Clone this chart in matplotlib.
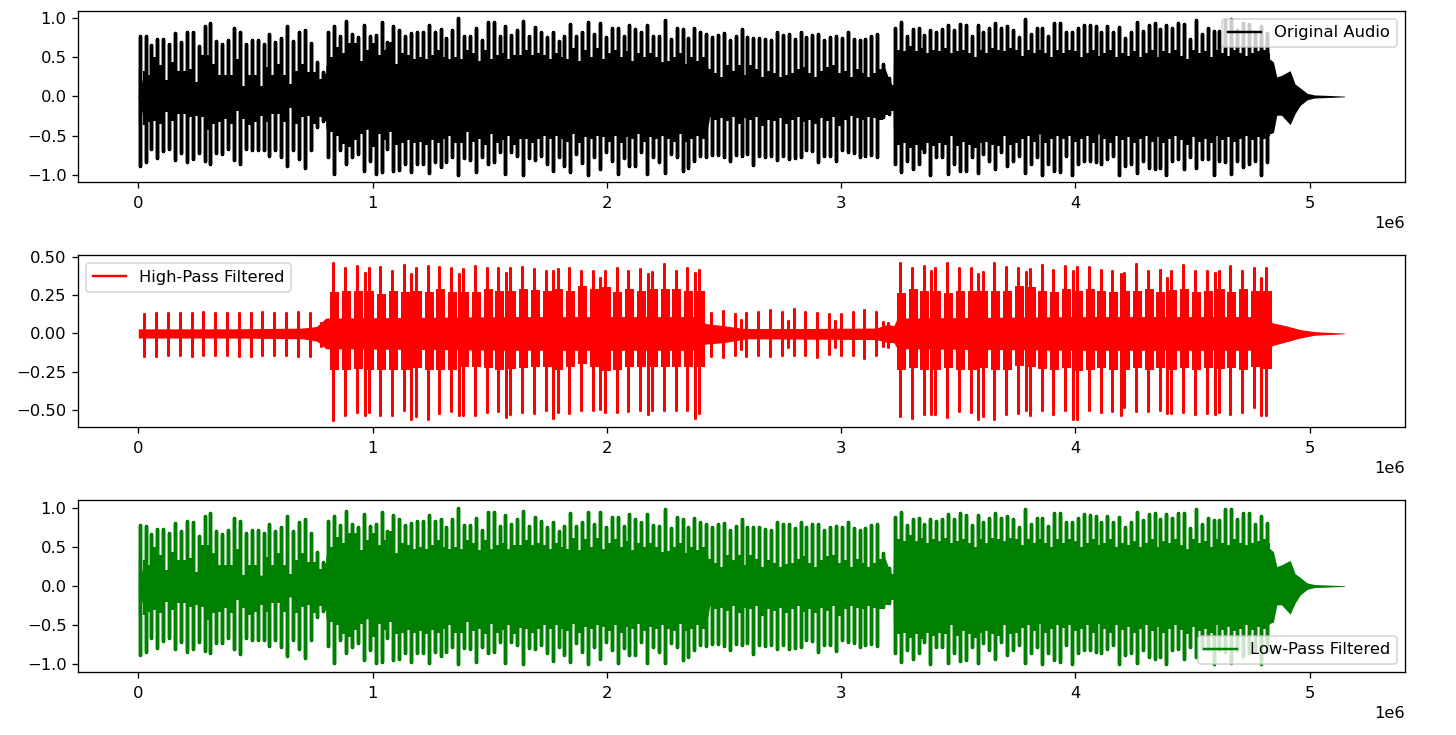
import numpy as np
import matplotlib
matplotlib.use('Agg')
import matplotlib.pyplot as plt

# all values, x in samples / 1e6
beat_start = 0.0057
beat_len = 0.02519
hp_start = 0.0256
hp_len = 0.05040

audio_ticks = [-1.0, -0.5, 0.0, 0.5, 1.0]
hp_ticks = [-0.50, -0.25, 0.00, 0.25, 0.50]
x_ticks = [0, 1e6, 2e6, 3e6, 4e6, 5e6]

audio_up = [
    .78,.77,.66,.73,.73,.675,.81,.70,.83,.82,
    .645,.90,.94,.71,.67,.72,.875,.83,.675,.72,
    .72,.675,.795,.70,.75,.90,.71,.82,.855,.685,
    .44,.31,.83,.90,.78,.96,.80,.76,.92,.77,
    .79,.95,.70,.905,.855,.78,.81,.83,.83,.91,
    .83,.86,.75,.855,1.0,.78,.78,.875,.72,.95,
    .95,.77,.905,.79,.855,.965,.77,.89,.83,.76,
    .825,.71,.77,.93,.77,.825,.95,.80,.945,.76,
    .88,.88,.77,.92,.86,.82,.92,.78,.77,.98,
    .74,.88,.86,.75,.87,.82,.80,.76,.79,.81,
    .72,.77,.86,.76,.75,.75,.73,.72,.82,.79,
    .80,.74,.82,.76,.79,.80,.72,.76,.77,.75,
    .825,.74,.72,.74,.78,.80,.42,.23,.88,.95,
    .78,.86,.87,.79,.855,.83,.86,.92,.855,.93,
    .91,.78,.91,.825,.87,.94,.87,.90,.855,
    .76,.985,.80,.87,.87,.77,.94,.94,.82,.825,
    .87,.92,.91,.90,.825,.90,.82,.89,.75,.825,
    .95,.84,.92,.94,.86,.92,.87,.94,.93,.74,
    .98,.80,.87,.84,.84,.98,.99,.855,.94,.93,
    .80,.90,.81]
audio_lo = [
    -.885,-.84,-.67,-.79,-.70,-.67,-.81,-.72,-.84,-.80,
    -.72,-.83,-.86,-.73,-.735,-.67,-.81,-.87,-.67,-.69,
    -.685,-.69,-.765,-.69,-.78,-.89,-.69,-.80,-.915,-.69,
    -.39,-.32,-.77,-.99,-.69,-.86,-.78,-.735,-.95,-.82,
    -.99,-.97,-.67,-.95,-.94,-.86,-.97,-.86,-.86,-.98,
    -.84,-.90,-.84,-.78,-1.0,-.79,-.81,-.97,-.78,-.86,
    -.84,-.71,-.99,-.71,-.76,-1.0,-.79,-.81,-.76,-.86,
    -.96,-.78,-.885,-.97,-.735,-.85,-1.0,-.78,-.93,-.71,
    -.82,-.99,-.79,-.885,-.885,-.71,-.99,-.78,-.84,-.98,
    -.735,-.78,-.95,-.91,-.82,-.76,-.77,-.745,-.745,-.77,
    -.82,-.745,-.76,-.735,-.875,-.76,-.77,-.76,-.81,-.76,
    -.80,-.79,-.78,-.69,-.70,-.84,-.76,-.76,-.83,-.69,
    -.71,-.73,-.78,-.76,-.745,-.77,-.265,-.22,-.86,-.97,
    -.82,-.93,-.86,-.71,-1.0,-.78,-.78,-.99,-.86,-.96,
    -.95,-.78,-.98,-.735,-.82,-.93,-.71,-.885,-.82,
    -.76,-.98,-.86,-.78,-1.0,-.86,-.95,-.97,-.76,-1.0,
    -.86,-.82,-.82,-.84,-.86,-.80,-.76,-1.0,-.885,-.86,
    -.98,-.82,-.91,-.93,-.91,-1.0,-.82,-.80,-.93,-.78,
    -.91,-.80,-.80,-1.0,-.82,-.84,-.99,-.82,-.90,-.86,
    -.82,-1.0,-.84]

# how far the white slit between two beats comes down / up
floor_up = [
    .33,.27,.50,.40,.205,.44,.33,.33,.355,.185,
    .525,.525,.42,.27,.27,.27,.48,.14,.27,.27,
    .11,.375,.27,.42,.27,.16,.33,.42,.31,.31,
    .22,.24,
    .50,.63,.55,.68,.68,.46,.59,.68,.525,.59,
    .70,.42,.55,.525,.48,.50,.48,.525,.59,.50,
    .48,.50,.48,.59,.55,.46,.59,.48,.525,.55,
    .48,.525,.525,.59,.525,.55,.525,.48,
    .55,.50,.48,.62,.46,.60,.50,.62,.48,.55,.60,.50,.58,.46,.55,.50,.55,.50,.44,.45,.50,.55,.42,.50,.46,.50,
    .35,.30,.25,.40,.33,.40,.27,.40,.35,.25,.33,.30,.25,.28,.30,.35,.38,.30,.25,.33,.38,.40,.30,.33,.25,.35,.30,.25,.30,.35,
    .25,.15,
    .60,.58,.65,.58,.62,.55,.60,.58,.62,.55,.58,.60,.55,.50,.60,.55,.62,.60,.58,.62,.60,
    .52,.60,.55,.60,.55,.50,.60,.55,.60,.58,.50,.55,.60,.52,.55,.60,.50,.55,.52,.58,.50,.55,.60,.50,.58,.55,.60,.52,.48,.60,.55,.58,.50,.60,.55,.52,.60,.55,.52,.55,.58,.60,.55]
floor_lo = [
    -.37,-.33,-.31,-.35,-.20,-.31,-.22,-.22,-.265,-.245,
    -.265,-.43,-.35,-.33,-.285,-.35,-.18,-.285,-.37,-.33,
    -.245,-.33,-.22,-.22,-.33,-.14,-.35,-.265,-.245,-.35,
    -.26,-.31,
    -.46,-.50,-.61,-.65,-.56,-.48,-.415,-.65,-.48,-.56,
    -.46,-.62,-.60,-.56,-.60,-.58,-.62,-.56,-.60,-.55,
    -.50,-.60,-.60,-.46,-.58,-.55,-.62,-.48,-.60,-.56,
    -.50,-.62,-.54,-.55,-.60,-.55,-.50,-.55,
    -.50,-.55,-.58,-.48,-.60,-.52,-.55,-.50,-.52,-.58,-.50,-.60,-.52,-.55,-.48,-.58,-.52,-.55,-.50,-.55,-.58,-.48,-.58,-.55,-.50,-.55,
    -.26,-.30,-.28,-.32,-.26,-.35,-.28,-.30,-.26,-.38,-.30,-.32,-.28,-.35,-.30,-.26,-.33,-.30,-.35,-.28,-.32,-.26,-.38,-.30,-.25,-.28,-.30,-.26,-.28,-.30,
    -.24,-.18,
    -.62,-.60,-.66,-.62,-.68,-.60,-.64,-.60,-.62,-.50,-.64,-.58,-.62,-.66,-.60,-.58,-.62,-.64,-.50,-.62,-.60,
    -.54,-.50,-.58,-.48,-.60,-.55,-.50,-.54,-.50,-.58,-.55,-.50,-.60,-.48,-.55,-.60,-.50,-.56,-.52,-.60,-.55,-.50,-.58,-.52,-.60,-.55,-.50,-.56,-.62,-.52,-.58,-.55,-.60,-.50,-.56,-.52,-.58,-.55,-.50,-.56,-.52,-.55,-.50]

# solid core under the slits, also carries the fade out at the end
body_t = [0,.004,.02,.74,.762,.776,.793,.80,.801,2.43,2.44,3.165,3.18,3.205,3.222,3.224,
          4.83,4.846,4.86,4.88,4.917,4.938,4.96,4.99,5.02,5.09,5.15]
audio_body_up = [.35,.35,.14,.14,.14,.13,.31,.29,.40,.40,.22,.22,.42,.22,.12,.48,
                 .48,.44,.25,.27,.33,.16,.11,.04,.02,.012,.004]
audio_body_lo = [-.37,-.37,-.14,-.14,-.14,-.14,-.32,-.30,-.42,-.42,-.24,-.24,-.24,-.2,-.13,-.48,
                 -.48,-.46,-.24,-.24,-.36,-.22,-.115,-.043,-.02,-.012,-.004]

# low-pass peaks and slits read the same as the original at this resolution
lowpass_up = audio_up
lowpass_lo = audio_lo
lowpass_floor_up = floor_up
lowpass_floor_lo = floor_lo
lowpass_body_up = audio_body_up
lowpass_body_lo = audio_body_lo

hp_up = [
    .125,.136,.136,.136,.136,.143,.136,.136,.136,.136,.14,.136,.136,.143,.136,
    .07,
    .457,.43,.44,.43,.435,.41,.445,.43,.44,.435,.43,.42,.44,.425,.425,.425,.435,.42,.41,.42,
    .43,.41,.405,.41,.425,.41,.42,.40,.45,.41,.425,.415,
    .136,.147,.13,.136,.143,.15,.143,.158,.143,.136,.125,.13,.14,.15,.14,.065,
    .457,.43,.44,.43,.457,.43,.43,.40,.457,.435,.43,.42,
    .446,.417,.44,.433,.433,.417,.405,.396,.45,.41,.417,.405,.446,.41,.41,.405,.44,.405,.43,.43]
hp_lo = [
    -.145,-.145,-.14,-.14,-.145,-.14,-.14,-.14,-.15,-.147,-.14,-.14,-.14,-.145,-.145,
    -.08,
    -.567,-.53,-.513,-.513,-.535,-.535,-.50,-.54,-.556,-.52,-.506,-.53,-.53,-.51,-.506,-.524,-.51,-.517,-.50,-.513,
    -.52,-.50,-.50,-.513,-.513,-.506,-.50,-.50,-.50,-.50,-.50,-.517,
    -.145,-.156,-.139,-.145,-.139,-.15,-.139,-.139,-.139,-.156,-.134,-.139,-.139,-.16,-.14,-.087,
    -.54,-.55,-.524,-.528,-.545,-.506,-.513,-.54,-.556,-.524,-.52,-.535,
    -.50,-.528,-.50,-.556,-.50,-.513,-.506,-.48,-.506,-.506,-.50,-.52,-.513,-.524,-.517,-.51,-.524,-.51,-.48,-.53]

# extra hits between the main ones
hp_extra_t = [.9676,1.165,1.368,1.570,1.772,1.971,2.175,2.377,2.573,2.772,
              2.974,3.177,3.384,3.586,3.788,3.990,4.193,4.392,4.595,4.794]
hp_extra_up = [.395,.39,.39,.395,.41,.36,.39,.395,.085,.08,
               .08,.075,.407,.39,.40,.407,.39,.36,.396,.364]
hp_extra_lo = [-.535,-.556,-.535,-.545,-.55,-.496,-.528,-.55,-.10,-.09,
               -.09,-.08,-.524,-.556,-.50,-.56,-.535,-.52,-.528,-.535]

# thick block around each main hit in the two loud parts
hp_block_j = list(range(16, 48)) + list(range(64, 96))
hp_block_up = [
    .27,.28,.275,.28,.255,.28,.27,.275,.27,.29,.27,.27,.27,.29,.28,.275,.29,.285,.28,.29,
    .28,.31,.29,.30,.27,.29,.28,.29,.29,.29,.28,.28,
    .265,.29,.275,.28,.265,.275,.28,.28,.275,.28,.31,.30,
    .28,.27,.29,.28,.29,.28,.27,.28,.28,.29,.27,.285,.29,.27,.28,.29,.27,.29,.28,.28]
hp_block_lo = [
    -.23,-.235,-.225,-.235,-.235,-.235,-.235,-.22,-.23,-.235,-.23,-.215,-.21,-.22,-.23,-.225,-.22,-.215,-.215,-.23,
    -.21,-.19,-.21,-.24,-.235,-.215,-.215,-.215,-.21,-.215,-.21,-.21,
    -.23,-.22,-.235,-.235,-.22,-.23,-.235,-.22,-.235,-.235,-.205,-.21,
    -.225,-.235,-.22,-.24,-.23,-.22,-.235,-.23,-.22,-.23,-.22,-.235,-.22,-.23,-.22,-.225,-.22,-.23,-.215,-.225]

hp_body_t = [0,.02,.40,.70,.76,.78,.80,1.6,2.40,2.42,2.50,2.60,3.15,3.20,3.225,3.24,4.0,
             4.83,4.84,4.90,4.96,5.02,5.15]
hp_body_up = [.03,.03,.03,.035,.045,.07,.10,.11,.11,.065,.05,.03,.035,.06,.05,.10,.11,
              .11,.07,.05,.025,.012,.002]
hp_body_lo = [-.03,-.03,-.03,-.035,-.05,-.07,-.10,-.11,-.11,-.07,-.06,-.035,-.04,-.06,-.06,-.10,-.11,
              -.11,-.08,-.055,-.03,-.012,-.002]


def spikes(t, up, lo):
    # each hit goes up, down and back to zero, then on to the next one
    t = np.asarray(t) * 1e6
    up = np.asarray(up)
    lo = np.asarray(lo)
    x = np.repeat(t, 4)
    y = np.column_stack([np.zeros(len(t)), up, lo, np.zeros(len(t))]).ravel()
    return x, y


beat_t = beat_start + beat_len * np.arange(len(audio_up))
gap_t = (beat_t + beat_len / 2) * 1e6
hp_t = hp_start + hp_len * np.arange(len(hp_up))

dpi = 118
fig, axes = plt.subplots(3, 1, figsize=(1456 / dpi, 735 / dpi))

ax = axes[0]
ax.fill_between(np.array(body_t) * 1e6, audio_body_lo, audio_body_up, color='black', linewidth=0)
ax.fill_between(gap_t, floor_lo, floor_up, step='mid', color='black', linewidth=0)
ax.plot(*spikes(beat_t, audio_up, audio_lo), color='black', lw=2.1, label='Original Audio')
ax.set_ylim(-1.1, 1.1)
ax.set_yticks(audio_ticks)
leg_top = ax.legend(loc='upper right')

ax = axes[1]
ax.fill_between(np.array(hp_body_t) * 1e6, hp_body_lo, hp_body_up, color='red', linewidth=0)
ax.plot(*spikes(hp_t[hp_block_j] + 0.0036, hp_block_up, hp_block_lo), color='red', lw=5.4,
        solid_capstyle='butt', solid_joinstyle='bevel')
ax.plot(*spikes(hp_extra_t, hp_extra_up, hp_extra_lo), color='red', lw=1.7)
ax.plot(*spikes(hp_t, hp_up, hp_lo), color='red', lw=1.7, label='High-Pass Filtered')
ax.set_ylim(-0.612, 0.51)
ax.set_yticks(hp_ticks)
leg_mid = ax.legend(loc='upper left')

ax = axes[2]
ax.fill_between(np.array(body_t) * 1e6, lowpass_body_lo, lowpass_body_up, color='green', linewidth=0)
ax.fill_between(gap_t, lowpass_floor_lo, lowpass_floor_up, step='mid', color='green', linewidth=0)
ax.plot(*spikes(beat_t, lowpass_up, lowpass_lo), color='green', lw=2.1, label='Low-Pass Filtered')
ax.set_ylim(-1.1, 1.1)
ax.set_yticks(audio_ticks)
leg_low = ax.legend(loc='lower right')

# legend keys stay at the normal line width
for leg in (leg_top, leg_mid, leg_low):
    leg.get_lines()[0].set_linewidth(1.5)

for ax in axes:
    ax.set_xlim(-0.2575e6, 5.4075e6)
    ax.set_xticks(x_ticks)
    ax.tick_params(axis='x', pad=5)

fig.subplots_adjust(left=78 / 1456, right=1405 / 1456, top=1 - 10.5 / 735, bottom=1 - 672 / 735, hspace=0.424)
fig.savefig('out.png', dpi=dpi)
